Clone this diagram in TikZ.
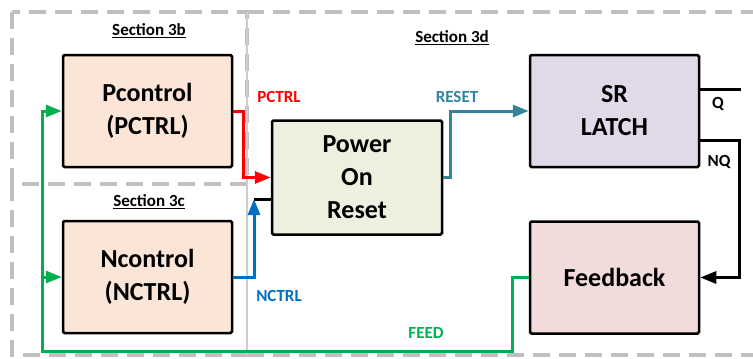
\documentclass[tikz,border=0pt]{standalone}
\usepackage{fontspec}
\setmainfont{Carlito}
\usetikzlibrary{arrows.meta}
\definecolor{secgray}{HTML}{BFBFBF}
\definecolor{pcfill}{HTML}{FBE5D6}
\definecolor{porfill}{HTML}{EBF1DE}
\definecolor{srfill}{HTML}{E0DAE8}
\definecolor{fbfill}{HTML}{F2DCDB}
\definecolor{sigred}{HTML}{FF0000}
\definecolor{sigblue}{HTML}{0070C0}
\definecolor{sigteal}{HTML}{31849B}
\definecolor{siggreen}{HTML}{00B050}
\tikzset{
  blockbox/.style={draw=black, line width=2.5pt, rounded corners=1.5pt, minimum width=169pt, minimum height=112pt, align=center, inner sep=0pt, font=\fontsize{26}{33}\selectfont\bfseries},
  secline/.style={draw=secgray, line width=3.2pt, dash pattern=on 17pt off 9pt},
  seclabel/.style={font=\fontsize{17}{20}\selectfont\bfseries, inner sep=0pt},
  siglabel/.style={font=\fontsize{17}{20}\selectfont\bfseries, inner sep=0pt},
  wire/.style={line width=3pt},
  tip/.style={-{Triangle[length=16pt,width=12pt]}}
}
\begin{document}
\begin{tikzpicture}[x=1pt,y=-1pt]
\useasboundingbox (0,0) rectangle (753,359);
% section frames
\draw[secline] (12,12) rectangle (247,184);
\draw[secline] (12,184) -- (12,355) -- (247,355);
\draw[secline] (247,12) -- (753,12);
\draw[secline] (247,355) -- (753,355);
\draw[draw=secgray!80, line width=2.5pt] (247,12) -- (247,355);
\node[seclabel] (s3b) at (149,31) {\underline{Section 3b}};
\node[seclabel] (s3c) at (149,202) {\underline{Section 3c}};
\node[seclabel] (s3d) at (452,38) {\underline{Section 3d}};
% blocks
\node[blockbox, fill=pcfill] (pc) at (147.5,111) {Pcontrol\\(PCTRL)};
\node[blockbox, fill=pcfill] (nc) at (147.5,277) {Ncontrol\\(NCTRL)};
\node[blockbox, fill=porfill, minimum width=170pt, minimum height=114pt] (por) at (357,177.5) {Power\\On\\Reset};
\node[blockbox, fill=srfill] (sr) at (614.5,111) {SR\\LATCH};
\node[blockbox, fill=fbfill] (fb) at (614.5,277.5) {Feedback};
% PCTRL
\coordinate (r1) at (243,111);
\coordinate (r2) at (243,177.5);
\draw[wire, sigred, tip] (pc.east) -- (r1) -- (r2) -- (por.west);
\node[siglabel, text=sigred] (lp) at (279,97) {PCTRL};
% NCTRL
\coordinate (stub) at (254,199);
\coordinate (b1) at (254,277);
\draw[wire, black] (stub) -- (stub -| por.west);
\draw[wire, sigblue, tip] (nc.east) -- (b1) -- (stub);
\node[siglabel, text=sigblue] (ln) at (279,296) {NCTRL};
% RESET
\coordinate (t1) at (450,177.5);
\coordinate (t2) at (450,111);
\draw[wire, sigteal, tip] (por.east) -- (t1) -- (t2) -- (sr.west);
\node[siglabel, text=sigteal] (lr) at (457,97) {RESET};
% Q and NQ
\coordinate (q) at (741,89);
\draw[wire, black] (sr.east |- q) -- (q);
\node[siglabel] (lq) at (718,104) {Q};
\coordinate (n1) at (739,140);
\coordinate (n2) at (739,277.5);
\draw[wire, black, tip] (sr.east |- n1) -- (n1) -- (n2) -- (fb.east);
\node[siglabel] (lnq) at (719,162) {NQ};
% FEED
\coordinate (f1) at (512,277.5);
\coordinate (f2) at (512,351);
\coordinate (f3) at (42,351);
\coordinate (f4) at (42,111);
\coordinate (f5) at (42,277);
\draw[wire, siggreen, tip] (fb.west) -- (f1) -- (f2) -- (f3) -- (f4) -- (pc.west);
\draw[wire, siggreen, tip] (f5) -- (nc.west);
\node[siglabel, text=siggreen] (lf) at (426,333) {FEED};
\end{tikzpicture}
\end{document}
